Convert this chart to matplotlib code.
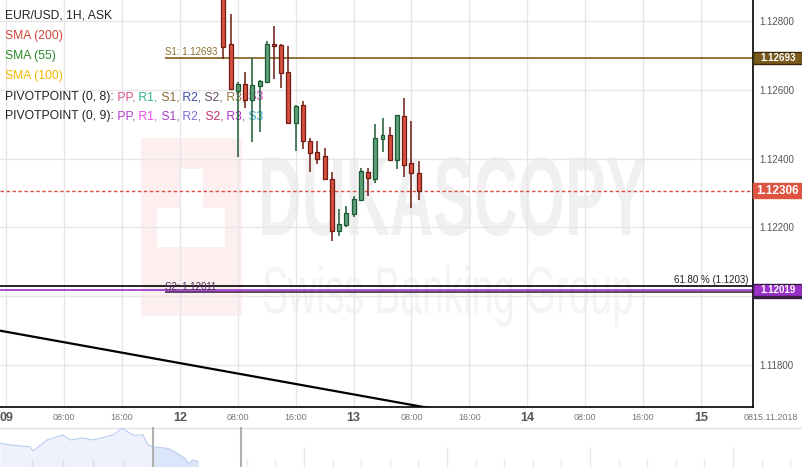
import matplotlib
matplotlib.use('Agg')
import matplotlib.pyplot as plt
import numpy as np
from matplotlib.textpath import TextPath
from matplotlib.patches import PathPatch, Rectangle
from matplotlib.font_manager import FontProperties
from matplotlib.transforms import Affine2D, blended_transform_factory

plt.rcParams['font.family'] = ['Liberation Sans', 'DejaVu Sans']

# hourly candles, hour index counted from Fri 09.11 00:00 (weekend skipped)
hours = list(range(30, 58))
opens = [1.12884, 1.12733, 1.12597, 1.12616, 1.12570, 1.12611, 1.12622, 1.12733,
         1.12730, 1.12652, 1.12504, 1.12555, 1.12450, 1.12418, 1.12408, 1.12340,
         1.12189, 1.12208, 1.12238, 1.12279, 1.12360, 1.12341, 1.12456, 1.12469,
         1.12397, 1.12523, 1.12386, 1.12357]
highs = [1.12934, 1.12820, 1.12624, 1.12653, 1.12692, 1.12628, 1.12742, 1.12785,
         1.12732, 1.12728, 1.12556, 1.12567, 1.12461, 1.12450, 1.12432, 1.12361,
         1.12253, 1.12262, 1.12291, 1.12372, 1.12373, 1.12500, 1.12519, 1.12493,
         1.12527, 1.12575, 1.12509, 1.12393]
lows = [1.12689, 1.12599, 1.12406, 1.12548, 1.12448, 1.12478, 1.12620, 1.12631,
        1.12606, 1.12500, 1.12423, 1.12429, 1.12362, 1.12384, 1.12338, 1.12161,
        1.12175, 1.12202, 1.12231, 1.12277, 1.12292, 1.12328, 1.12418, 1.12393,
        1.12369, 1.12346, 1.12256, 1.12280]
closes = [1.12725, 1.12601, 1.12616, 1.12570, 1.12614, 1.12626, 1.12732, 1.12726,
          1.12648, 1.12504, 1.12552, 1.12450, 1.12415, 1.12400, 1.12340, 1.12189,
          1.12209, 1.12241, 1.12282, 1.12363, 1.12343, 1.12459, 1.12468, 1.12397,
          1.12526, 1.12381, 1.12357, 1.12306]

s1_level = 1.12693
s2_level = 1.12011
fib_level = 1.1203
purple_level = 1.12019
last_price = 1.12306
pivot_start = 22

trend_hours = [-2, 60]
trend_prices = [1.11904, 1.11669]

tick_hours = [0, 8, 16, 24, 32, 40, 48, 56, 64, 72, 80, 88, 96]
tick_labels = ['09', '08:00', '16:00', '12', '08:00', '16:00', '13', '08:00',
               '16:00', '14', '08:00', '16:00', '15']
price_ticks = [1.118, 1.120, 1.122, 1.124, 1.126, 1.128]
price_labels = ['1.11800', '', '1.12200', '1.12400', '1.12600', '1.12800']

# navigator overview (x in px, height in px)
nav_x = [0, 10, 30, 33, 47, 63, 70, 83, 93, 113, 122, 133, 143, 148, 153,
         167, 173, 177, 185, 188, 193, 198]
nav_y = [23.7, 22, 20.3, 16, 27, 32, 27, 29, 27, 32, 38.7, 32, 32, 22, 20.3,
         18.7, 16.3, 13.7, 8.7, 3.7, 7, 5.3]

W, H = 803, 467
fig = plt.figure(figsize=(W / 100, H / 100), dpi=100)
ax_w, ax_h = 753.3, 407.3
ax = fig.add_axes([0, 1 - ax_h / H, ax_w / W, ax_h / H])
ax.patch.set_visible(False)
ax.set_zorder(1)
xmin, xmax = -0.87, 103.25
ymin, ymax = 1.11677, 1.12861

# watermark, placed in figure pixels (y from top)
px = Affine2D().scale(1 / W, -1 / H).translate(0, 1) + fig.transFigure


def stamp(text, x0, y0, x1, y1, color, family, weight):
    tp = TextPath((0, 0), text, size=100, prop=FontProperties(family=family, weight=weight))
    bb = tp.get_extents()
    tr = (Affine2D().translate(-bb.x0, -bb.y0)
          .scale((x1 - x0) / bb.width, -(y1 - y0) / bb.height)
          .translate(x0, y1) + px)
    fig.add_artist(PathPatch(tp, transform=tr, facecolor=color, lw=0, zorder=-1))


fig.add_artist(Rectangle((141, 138), 101, 178, transform=px, facecolor='#fdeef0', lw=0, zorder=-1))
fig.add_artist(Rectangle((181, 169), 22, 45, transform=px, facecolor='white', lw=0, zorder=-1))
fig.add_artist(Rectangle((157, 208), 68, 39, transform=px, facecolor='white', lw=0, zorder=-1))
stamp('DUKASCOPY', 262, 157, 645, 236, '#f0f0f0', 'Liberation Sans', 'bold')
stamp('Swiss Banking Group', 264, 265, 632, 327, '#f4f4f4', 'Liberation Sans', 'normal')

# grid
ax.set_xticks(tick_hours)
ax.set_yticks(price_ticks)
ax.set_yticklabels(price_labels)
ax.grid(True, color='#e6e6e6', lw=1.0)
ax.tick_params(axis='x', length=0, labelbottom=False)
ax.yaxis.tick_right()
ax.tick_params(axis='y', length=0, pad=4.5, labelsize=7, labelcolor='#555555')
for side in ['left', 'top']:
    ax.spines[side].set_visible(False)
for side in ['right', 'bottom']:
    ax.spines[side].set_color('black')
    ax.spines[side].set_linewidth(1.2)

# levels
ax.hlines(s1_level, pivot_start, xmax + 5, color='#7f5e1c', lw=1.2, zorder=2)
ax.axhline(fib_level, color='black', lw=1.2, zorder=2)
ax.axhline(purple_level, color='#9932cc', lw=1.2, zorder=2)
ax.hlines(s2_level, pivot_start, xmax + 5, color='#4a2257', lw=1.2, zorder=2)
ax.axhline(last_price, color='#d9503e', lw=1, ls=(0, (2.5, 1.8)), zorder=2)
ax.plot(trend_hours, trend_prices, color='black', lw=1.6, zorder=2)

ax.text(pivot_start, s1_level + 0.00002, 'S1: 1.12693', fontsize=7, color='#8c6d2e',
        va='bottom', ha='left', zorder=2.6)
ax.text(pivot_start, s2_level, 'S2: 1.12011', fontsize=7, color='#4b2b5b',
        va='bottom', ha='left', zorder=2.6)
yb = blended_transform_factory(ax.transAxes, ax.transData)
ax.text(1 - 5 / ax_w, fib_level + 0.00002, '61.80 % (1.1203)', transform=yb, fontsize=7,
        color='#222222', ha='right', va='bottom', zorder=2.6)

# candles
up = [c >= o for o, c in zip(opens, closes)]
edge = ['#1d5a33' if u else '#6e1b12' for u in up]
fill = ['#5fa078' if u else '#d9503e' for u in up]
ax.vlines(hours, lows, highs, colors=edge, lw=1.1, zorder=3)
ax.bar(hours, [abs(c - o) for o, c in zip(opens, closes)],
       bottom=[min(o, c) for o, c in zip(opens, closes)], width=0.55,
       color=fill, edgecolor=edge, linewidth=0.9, zorder=4)

# legend text
def rainbow(y, parts, size=8.7):
    t = ax.text(5 / ax_w, y, parts[0][0], color=parts[0][1], transform=ax.transAxes,
                fontsize=size, va='center', ha='left', zorder=2.6)
    for s, c in parts[1:]:
        t = ax.annotate(s, xy=(1, 0), xycoords=t, va='bottom', ha='left',
                        color=c, fontsize=size, zorder=2.6)


def ly(ypx):
    return 1 - ypx / ax_h


rainbow(ly(15.7), [('EUR/USD, 1H, ASK', '#222222')])
rainbow(ly(35.5), [('SMA (200)', '#d04535')])
rainbow(ly(55.5), [('SMA (55)', '#2a8a2a')])
rainbow(ly(75.7), [('SMA (100)', '#f5b800')])
rainbow(ly(97), [('PIVOTPOINT (0, 8):', '#222222'), (' PP,', '#d6508f'), (' R1,', '#2db88a'),
                 (' S1,', '#8a6a35'), (' R2,', '#3d4fa5'), (' S2,', '#6a4a6a'),
                 (' R3,', '#9a7a45'), (' S3', '#d63fd6')])
rainbow(ly(116.5), [('PIVOTPOINT (0, 9):', '#222222'), (' PP,', '#b33fd0'), (' R1,', '#e84de8'),
                    (' S1,', '#a43cc8'), (' R2,', '#7b6fd6'), (' S2,', '#c3306e'),
                    (' R3,', '#b030c8'), (' S3', '#3aaed0')])

# x labels
xb = blended_transform_factory(ax.transData, ax.transAxes)
lab_y = -(418 - ax_h) / ax_h
for hx, lab in zip(tick_hours, tick_labels):
    if ':' in lab:
        ax.text(hx, lab_y, lab, transform=xb, fontsize=6.5, color='#777777',
                ha='center', va='center', clip_on=False)
    else:
        ax.text(hx, lab_y, lab, transform=xb, fontsize=9, color='#555555',
                fontweight='bold', ha='center', va='center', clip_on=False)
ax.text(1 - 10 / ax_w, lab_y, '0815.11.2018', transform=ax.transAxes, fontsize=6.5,
        color='#777777', ha='left', va='center', clip_on=False)

# price boxes on the right scale
def price_box(level, text, face, edgec, size, hpx):
    hh = hpx / ax_h * (ymax - ymin)
    ax.add_patch(Rectangle((1.0, level - hh / 2), 49 / ax_w, hh, transform=yb,
                           facecolor=face, edgecolor=edgec, lw=1, clip_on=False, zorder=5))
    ax.text(1.0 + 24.5 / ax_w, level, text, transform=yb, ha='center', va='center',
            color='white', fontsize=size, fontweight='bold', clip_on=False, zorder=6)


price_box(s1_level, '1.12693', '#7a5a1a', '#3b2b0b', 7, 12)
price_box(last_price, '1.12306', '#df5440', '#df5440', 8.5, 15)
price_box(s2_level, '', '#3a1f45', '#3a1f45', 7, 12)
price_box(purple_level, '1.12019', '#9b30c8', '#3a1f45', 7, 12)

ax.set_xlim(xmin, xmax)
ax.set_ylim(ymin, ymax)

# navigator
nav = fig.add_axes([0, 0, 1, 40 / H])
nav.set_xlim(0, W)
nav.set_ylim(0, 40)
nav.axis('off')
nav.axhline(39.5, color='#e2e2e2', lw=1)
nx = np.array(nav_x)
ny = np.array(nav_y)
nav.fill_between(nx, 0, ny, where=nx <= 153, color='#edf2fd', lw=0)
nav.fill_between(nx, 0, ny, where=nx >= 153, color='#dbe6fa', lw=0)
nav.plot(nx, ny, color='#b9cdf0', lw=0.8)
for tx in np.arange(32, 150, 30.7):
    nav.vlines(tx, 0, 8, color='#e0e0e0', lw=1)
for i, tx in enumerate(np.arange(246.7, W, 28.6)):
    nav.vlines(tx, 0, 20 if i % 5 == 2 else 8, color='#e8e8e8', lw=1)
nav.vlines([153, 240.7], 0, 40, color='#b0b0b0', lw=1.5)

fig.savefig('out.png', dpi=100)
